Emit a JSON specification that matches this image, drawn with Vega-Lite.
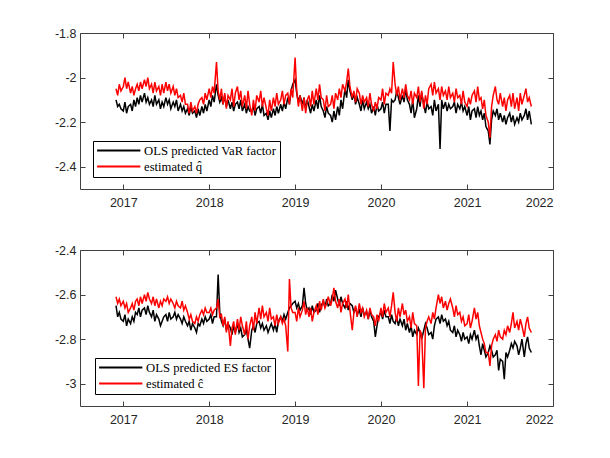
{
  "$schema": "https://vega.github.io/schema/vega-lite/v6.json",
  "background": "white",
  "padding": {"left": 54, "top": 27, "right": 5, "bottom": 5},
  "spacing": 35,
  "data": {"values": [
    {"t":"2016-12-01","v":-2.10,"q":-2.05,"e":-2.65,"c":-2.61},
    {"t":"2016-12-08","v":-2.13,"q":-2.08,"e":-2.70,"c":-2.64},
    {"t":"2016-12-15","v":-2.12,"q":-2.03,"e":-2.68,"c":-2.62},
    {"t":"2016-12-22","v":-2.14,"q":-2.06,"e":-2.71,"c":-2.65},
    {"t":"2017-01-01","v":-2.15,"q":-2.04,"e":-2.72,"c":-2.63},
    {"t":"2017-01-08","v":-2.11,"q":-2.00,"e":-2.69,"c":-2.66},
    {"t":"2017-01-15","v":-2.16,"q":-2.05,"e":-2.74,"c":-2.64},
    {"t":"2017-01-22","v":-2.13,"q":-2.02,"e":-2.71,"c":-2.68},
    {"t":"2017-02-01","v":-2.12,"q":-2.07,"e":-2.73,"c":-2.66},
    {"t":"2017-02-08","v":-2.15,"q":-2.04,"e":-2.70,"c":-2.64},
    {"t":"2017-02-15","v":-2.10,"q":-2.08,"e":-2.72,"c":-2.67},
    {"t":"2017-02-22","v":-2.13,"q":-2.05,"e":-2.68,"c":-2.63},
    {"t":"2017-03-01","v":-2.09,"q":-2.03,"e":-2.69,"c":-2.62},
    {"t":"2017-03-08","v":-2.12,"q":-2.06,"e":-2.66,"c":-2.65},
    {"t":"2017-03-15","v":-2.08,"q":-2.02,"e":-2.70,"c":-2.61},
    {"t":"2017-03-22","v":-2.11,"q":-2.05,"e":-2.67,"c":-2.64},
    {"t":"2017-04-01","v":-2.07,"q":-2.01,"e":-2.66,"c":-2.60},
    {"t":"2017-04-08","v":-2.11,"q":-2.04,"e":-2.69,"c":-2.63},
    {"t":"2017-04-15","v":-2.09,"q":-2.00,"e":-2.65,"c":-2.59},
    {"t":"2017-04-22","v":-2.12,"q":-2.05,"e":-2.68,"c":-2.62},
    {"t":"2017-05-01","v":-2.10,"q":-2.03,"e":-2.70,"c":-2.64},
    {"t":"2017-05-08","v":-2.13,"q":-2.07,"e":-2.67,"c":-2.61},
    {"t":"2017-05-15","v":-2.08,"q":-2.02,"e":-2.72,"c":-2.65},
    {"t":"2017-05-22","v":-2.12,"q":-2.06,"e":-2.69,"c":-2.62},
    {"t":"2017-06-01","v":-2.10,"q":-2.04,"e":-2.71,"c":-2.66},
    {"t":"2017-06-08","v":-2.14,"q":-2.08,"e":-2.74,"c":-2.63},
    {"t":"2017-06-15","v":-2.11,"q":-2.03,"e":-2.72,"c":-2.65},
    {"t":"2017-06-22","v":-2.13,"q":-2.07,"e":-2.70,"c":-2.62},
    {"t":"2017-07-01","v":-2.09,"q":-2.02,"e":-2.69,"c":-2.63},
    {"t":"2017-07-08","v":-2.12,"q":-2.06,"e":-2.72,"c":-2.61},
    {"t":"2017-07-15","v":-2.10,"q":-2.03,"e":-2.68,"c":-2.64},
    {"t":"2017-07-22","v":-2.14,"q":-2.07,"e":-2.71,"c":-2.62},
    {"t":"2017-08-01","v":-2.11,"q":-2.04,"e":-2.70,"c":-2.64},
    {"t":"2017-08-08","v":-2.13,"q":-2.08,"e":-2.68,"c":-2.66},
    {"t":"2017-08-15","v":-2.10,"q":-2.05,"e":-2.71,"c":-2.63},
    {"t":"2017-08-22","v":-2.15,"q":-2.09,"e":-2.69,"c":-2.65},
    {"t":"2017-09-01","v":-2.12,"q":-2.08,"e":-2.71,"c":-2.66},
    {"t":"2017-09-08","v":-2.15,"q":-2.11,"e":-2.73,"c":-2.63},
    {"t":"2017-09-15","v":-2.13,"q":-2.07,"e":-2.70,"c":-2.67},
    {"t":"2017-09-22","v":-2.16,"q":-2.12,"e":-2.72,"c":-2.65},
    {"t":"2017-10-01","v":-2.14,"q":-2.12,"e":-2.74,"c":-2.68},
    {"t":"2017-10-08","v":-2.17,"q":-2.16,"e":-2.72,"c":-2.71},
    {"t":"2017-10-15","v":-2.13,"q":-2.11,"e":-2.76,"c":-2.69},
    {"t":"2017-10-22","v":-2.16,"q":-2.15,"e":-2.73,"c":-2.72},
    {"t":"2017-11-01","v":-2.15,"q":-2.13,"e":-2.75,"c":-2.73},
    {"t":"2017-11-08","v":-2.18,"q":-2.16,"e":-2.77,"c":-2.70},
    {"t":"2017-11-15","v":-2.14,"q":-2.12,"e":-2.73,"c":-2.72},
    {"t":"2017-11-22","v":-2.17,"q":-2.10,"e":-2.74,"c":-2.69},
    {"t":"2017-12-01","v":-2.13,"q":-2.09,"e":-2.71,"c":-2.67},
    {"t":"2017-12-08","v":-2.16,"q":-2.12,"e":-2.73,"c":-2.69},
    {"t":"2017-12-15","v":-2.12,"q":-2.07,"e":-2.70,"c":-2.66},
    {"t":"2017-12-22","v":-2.15,"q":-2.10,"e":-2.72,"c":-2.68},
    {"t":"2018-01-01","v":-2.10,"q":-2.05,"e":-2.71,"c":-2.68},
    {"t":"2018-01-08","v":-2.13,"q":-2.09,"e":-2.69,"c":-2.66},
    {"t":"2018-01-15","v":-2.08,"q":-2.04,"e":-2.73,"c":-2.69},
    {"t":"2018-01-22","v":-2.11,"q":-2.07,"e":-2.70,"c":-2.67},
    {"t":"2018-02-01","v":-2.03,"q":-1.93,"e":-2.70,"c":-2.66},
    {"t":"2018-02-08","v":-2.08,"q":-2.06,"e":-2.51,"c":-2.62},
    {"t":"2018-02-15","v":-2.11,"q":-2.10,"e":-2.68,"c":-2.70},
    {"t":"2018-02-22","v":-2.09,"q":-2.05,"e":-2.72,"c":-2.69},
    {"t":"2018-03-01","v":-2.12,"q":-2.12,"e":-2.74,"c":-2.74},
    {"t":"2018-03-08","v":-2.08,"q":-2.07,"e":-2.71,"c":-2.70},
    {"t":"2018-03-15","v":-2.13,"q":-2.14,"e":-2.76,"c":-2.77},
    {"t":"2018-03-22","v":-2.10,"q":-2.08,"e":-2.73,"c":-2.72},
    {"t":"2018-04-01","v":-2.14,"q":-2.10,"e":-2.75,"c":-2.83},
    {"t":"2018-04-08","v":-2.11,"q":-2.05,"e":-2.78,"c":-2.75},
    {"t":"2018-04-15","v":-2.15,"q":-2.13,"e":-2.74,"c":-2.72},
    {"t":"2018-04-22","v":-2.12,"q":-2.07,"e":-2.77,"c":-2.78},
    {"t":"2018-05-01","v":-2.11,"q":-2.04,"e":-2.73,"c":-2.71},
    {"t":"2018-05-08","v":-2.14,"q":-2.10,"e":-2.77,"c":-2.76},
    {"t":"2018-05-15","v":-2.10,"q":-2.06,"e":-2.75,"c":-2.70},
    {"t":"2018-05-22","v":-2.15,"q":-2.13,"e":-2.79,"c":-2.74},
    {"t":"2018-06-01","v":-2.12,"q":-2.08,"e":-2.78,"c":-2.78},
    {"t":"2018-06-08","v":-2.16,"q":-2.14,"e":-2.76,"c":-2.72},
    {"t":"2018-06-15","v":-2.13,"q":-2.06,"e":-2.80,"c":-2.80},
    {"t":"2018-06-22","v":-2.15,"q":-2.12,"e":-2.84,"c":-2.74},
    {"t":"2018-07-01","v":-2.15,"q":-2.17,"e":-2.76,"c":-2.70},
    {"t":"2018-07-08","v":-2.13,"q":-2.10,"e":-2.74,"c":-2.76},
    {"t":"2018-07-15","v":-2.17,"q":-2.15,"e":-2.77,"c":-2.68},
    {"t":"2018-07-22","v":-2.14,"q":-2.08,"e":-2.73,"c":-2.73},
    {"t":"2018-08-01","v":-2.13,"q":-2.11,"e":-2.72,"c":-2.66},
    {"t":"2018-08-08","v":-2.16,"q":-2.06,"e":-2.75,"c":-2.71},
    {"t":"2018-08-15","v":-2.12,"q":-2.13,"e":-2.73,"c":-2.65},
    {"t":"2018-08-22","v":-2.17,"q":-2.09,"e":-2.76,"c":-2.70},
    {"t":"2018-09-01","v":-2.16,"q":-2.14,"e":-2.74,"c":-2.68},
    {"t":"2018-09-08","v":-2.19,"q":-2.17,"e":-2.77,"c":-2.72},
    {"t":"2018-09-15","v":-2.15,"q":-2.10,"e":-2.75,"c":-2.66},
    {"t":"2018-09-22","v":-2.18,"q":-2.15,"e":-2.73,"c":-2.71},
    {"t":"2018-10-01","v":-2.14,"q":-2.09,"e":-2.76,"c":-2.70},
    {"t":"2018-10-08","v":-2.17,"q":-2.13,"e":-2.73,"c":-2.74},
    {"t":"2018-10-15","v":-2.13,"q":-2.07,"e":-2.77,"c":-2.69},
    {"t":"2018-10-22","v":-2.16,"q":-2.12,"e":-2.72,"c":-2.73},
    {"t":"2018-11-01","v":-2.12,"q":-2.10,"e":-2.70,"c":-2.70},
    {"t":"2018-11-08","v":-2.15,"q":-2.06,"e":-2.72,"c":-2.73},
    {"t":"2018-11-15","v":-2.11,"q":-2.12,"e":-2.69,"c":-2.71},
    {"t":"2018-11-22","v":-2.14,"q":-2.08,"e":-2.71,"c":-2.74},
    {"t":"2018-12-01","v":-2.09,"q":-2.07,"e":-2.68,"c":-2.855},
    {"t":"2018-12-08","v":-2.12,"q":-2.12,"e":-2.66,"c":-2.53},
    {"t":"2018-12-15","v":-2.06,"q":-2.05,"e":-2.65,"c":-2.66},
    {"t":"2018-12-22","v":-2.03,"q":-2.09,"e":-2.64,"c":-2.68},
    {"t":"2019-01-01","v":-2.01,"q":-1.91,"e":-2.63,"c":-2.68},
    {"t":"2019-01-08","v":-2.07,"q":-2.06,"e":-2.66,"c":-2.72},
    {"t":"2019-01-15","v":-2.11,"q":-2.13,"e":-2.64,"c":-2.66},
    {"t":"2019-01-22","v":-2.08,"q":-2.08,"e":-2.67,"c":-2.70},
    {"t":"2019-02-01","v":-2.12,"q":-2.15,"e":-2.65,"c":-2.67},
    {"t":"2019-02-08","v":-2.09,"q":-2.09,"e":-2.57,"c":-2.63},
    {"t":"2019-02-15","v":-2.14,"q":-2.16,"e":-2.64,"c":-2.69},
    {"t":"2019-02-22","v":-2.10,"q":-2.10,"e":-2.67,"c":-2.66},
    {"t":"2019-03-01","v":-2.13,"q":-2.08,"e":-2.66,"c":-2.70},
    {"t":"2019-03-08","v":-2.16,"q":-2.13,"e":-2.69,"c":-2.66},
    {"t":"2019-03-15","v":-2.12,"q":-2.06,"e":-2.65,"c":-2.72},
    {"t":"2019-03-22","v":-2.15,"q":-2.12,"e":-2.68,"c":-2.68},
    {"t":"2019-04-01","v":-2.10,"q":-2.05,"e":-2.67,"c":-2.65},
    {"t":"2019-04-08","v":-2.14,"q":-2.10,"e":-2.64,"c":-2.69},
    {"t":"2019-04-15","v":-2.08,"q":-2.03,"e":-2.68,"c":-2.63},
    {"t":"2019-04-22","v":-2.13,"q":-2.09,"e":-2.65,"c":-2.67},
    {"t":"2019-05-01","v":-2.15,"q":-2.10,"e":-2.63,"c":-2.62},
    {"t":"2019-05-08","v":-2.18,"q":-2.15,"e":-2.66,"c":-2.66},
    {"t":"2019-05-15","v":-2.13,"q":-2.08,"e":-2.62,"c":-2.64},
    {"t":"2019-05-22","v":-2.16,"q":-2.13,"e":-2.65,"c":-2.61},
    {"t":"2019-06-01","v":-2.17,"q":-2.12,"e":-2.64,"c":-2.65},
    {"t":"2019-06-08","v":-2.20,"q":-2.08,"e":-2.60,"c":-2.62},
    {"t":"2019-06-15","v":-2.15,"q":-2.14,"e":-2.63,"c":-2.57},
    {"t":"2019-06-22","v":-2.19,"q":-2.07,"e":-2.58,"c":-2.63},
    {"t":"2019-07-01","v":-2.13,"q":-2.10,"e":-2.62,"c":-2.66},
    {"t":"2019-07-08","v":-2.17,"q":-2.05,"e":-2.65,"c":-2.62},
    {"t":"2019-07-15","v":-2.10,"q":-2.09,"e":-2.61,"c":-2.68},
    {"t":"2019-07-22","v":-2.14,"q":-2.03,"e":-2.64,"c":-2.64},
    {"t":"2019-08-01","v":-2.05,"q":-2.06,"e":-2.66,"c":-2.62},
    {"t":"2019-08-08","v":-2.09,"q":-2.02,"e":-2.63,"c":-2.66},
    {"t":"2019-08-15","v":-2.01,"q":-1.96,"e":-2.67,"c":-2.60},
    {"t":"2019-08-22","v":-2.06,"q":-2.04,"e":-2.64,"c":-2.67},
    {"t":"2019-09-01","v":-2.10,"q":-2.09,"e":-2.65,"c":-2.76},
    {"t":"2019-09-08","v":-2.07,"q":-2.06,"e":-2.68,"c":-2.68},
    {"t":"2019-09-15","v":-2.12,"q":-2.11,"e":-2.66,"c":-2.65},
    {"t":"2019-09-22","v":-2.09,"q":-2.05,"e":-2.69,"c":-2.70},
    {"t":"2019-10-01","v":-2.12,"q":-2.07,"e":-2.67,"c":-2.64},
    {"t":"2019-10-08","v":-2.15,"q":-2.12,"e":-2.70,"c":-2.68},
    {"t":"2019-10-15","v":-2.10,"q":-2.08,"e":-2.66,"c":-2.66},
    {"t":"2019-10-22","v":-2.14,"q":-2.11,"e":-2.69,"c":-2.70},
    {"t":"2019-11-01","v":-2.11,"q":-2.09,"e":-2.68,"c":-2.67},
    {"t":"2019-11-08","v":-2.14,"q":-2.13,"e":-2.71,"c":-2.71},
    {"t":"2019-11-15","v":-2.12,"q":-2.07,"e":-2.67,"c":-2.66},
    {"t":"2019-11-22","v":-2.16,"q":-2.12,"e":-2.70,"c":-2.69},
    {"t":"2019-12-01","v":-2.13,"q":-2.15,"e":-2.72,"c":-2.70},
    {"t":"2019-12-08","v":-2.17,"q":-2.11,"e":-2.79,"c":-2.74},
    {"t":"2019-12-15","v":-2.12,"q":-2.14,"e":-2.74,"c":-2.69},
    {"t":"2019-12-22","v":-2.15,"q":-2.09,"e":-2.70,"c":-2.72},
    {"t":"2020-01-01","v":-2.14,"q":-2.10,"e":-2.68,"c":-2.66},
    {"t":"2020-01-08","v":-2.11,"q":-2.05,"e":-2.71,"c":-2.70},
    {"t":"2020-01-15","v":-2.16,"q":-2.12,"e":-2.67,"c":-2.64},
    {"t":"2020-01-22","v":-2.12,"q":-2.07,"e":-2.70,"c":-2.68},
    {"t":"2020-02-01","v":-2.12,"q":-2.08,"e":-2.70,"c":-2.66},
    {"t":"2020-02-08","v":-2.24,"q":-2.05,"e":-2.73,"c":-2.70},
    {"t":"2020-02-15","v":-2.10,"q":-2.07,"e":-2.69,"c":-2.65},
    {"t":"2020-02-22","v":-2.11,"q":-1.93,"e":-2.72,"c":-2.59},
    {"t":"2020-03-01","v":-2.10,"q":-2.03,"e":-2.73,"c":-2.68},
    {"t":"2020-03-08","v":-2.06,"q":-2.08,"e":-2.70,"c":-2.72},
    {"t":"2020-03-15","v":-2.09,"q":-2.04,"e":-2.74,"c":-2.66},
    {"t":"2020-03-22","v":-2.12,"q":-2.10,"e":-2.71,"c":-2.70},
    {"t":"2020-04-01","v":-2.08,"q":-2.05,"e":-2.74,"c":-2.64},
    {"t":"2020-04-08","v":-2.11,"q":-2.09,"e":-2.71,"c":-2.69},
    {"t":"2020-04-15","v":-2.05,"q":-2.03,"e":-2.76,"c":-2.67},
    {"t":"2020-04-22","v":-2.10,"q":-2.08,"e":-2.73,"c":-2.72},
    {"t":"2020-05-01","v":-2.12,"q":-2.10,"e":-2.77,"c":-2.70},
    {"t":"2020-05-08","v":-2.16,"q":-2.06,"e":-2.74,"c":-2.75},
    {"t":"2020-05-15","v":-2.10,"q":-2.12,"e":-2.79,"c":-2.68},
    {"t":"2020-05-22","v":-2.18,"q":-2.07,"e":-2.76,"c":-2.73},
    {"t":"2020-06-01","v":-2.14,"q":-2.09,"e":-2.78,"c":-2.74},
    {"t":"2020-06-08","v":-2.08,"q":-2.04,"e":-2.75,"c":-3.01},
    {"t":"2020-06-15","v":-2.13,"q":-2.11,"e":-2.77,"c":-2.76},
    {"t":"2020-06-22","v":-2.07,"q":-2.06,"e":-2.80,"c":-2.78},
    {"t":"2020-07-01","v":-2.12,"q":-2.14,"e":-2.76,"c":-3.02},
    {"t":"2020-07-08","v":-2.16,"q":-2.08,"e":-2.73,"c":-2.75},
    {"t":"2020-07-15","v":-2.11,"q":-2.12,"e":-2.75,"c":-2.72},
    {"t":"2020-07-22","v":-2.14,"q":-2.05,"e":-2.78,"c":-2.70},
    {"t":"2020-08-01","v":-2.13,"q":-2.03,"e":-2.77,"c":-2.73},
    {"t":"2020-08-08","v":-2.17,"q":-2.08,"e":-2.80,"c":-2.68},
    {"t":"2020-08-15","v":-2.10,"q":-2.02,"e":-2.74,"c":-2.71},
    {"t":"2020-08-22","v":-2.15,"q":-2.07,"e":-2.71,"c":-2.66},
    {"t":"2020-09-01","v":-2.12,"q":-2.05,"e":-2.70,"c":-2.60},
    {"t":"2020-09-08","v":-2.32,"q":-2.10,"e":-2.73,"c":-2.64},
    {"t":"2020-09-15","v":-2.10,"q":-2.04,"e":-2.69,"c":-2.61},
    {"t":"2020-09-22","v":-2.14,"q":-2.08,"e":-2.72,"c":-2.66},
    {"t":"2020-10-01","v":-2.11,"q":-2.06,"e":-2.71,"c":-2.63},
    {"t":"2020-10-08","v":-2.15,"q":-2.10,"e":-2.74,"c":-2.67},
    {"t":"2020-10-15","v":-2.12,"q":-2.04,"e":-2.72,"c":-2.64},
    {"t":"2020-10-22","v":-2.14,"q":-2.09,"e":-2.76,"c":-2.62},
    {"t":"2020-11-01","v":-2.13,"q":-2.07,"e":-2.77,"c":-2.66},
    {"t":"2020-11-08","v":-2.11,"q":-2.11,"e":-2.74,"c":-2.70},
    {"t":"2020-11-15","v":-2.16,"q":-2.05,"e":-2.79,"c":-2.65},
    {"t":"2020-11-22","v":-2.12,"q":-2.09,"e":-2.76,"c":-2.69},
    {"t":"2020-12-01","v":-2.14,"q":-2.08,"e":-2.78,"c":-2.68},
    {"t":"2020-12-08","v":-2.11,"q":-2.12,"e":-2.81,"c":-2.72},
    {"t":"2020-12-15","v":-2.15,"q":-2.06,"e":-2.77,"c":-2.70},
    {"t":"2020-12-22","v":-2.13,"q":-2.11,"e":-2.80,"c":-2.74},
    {"t":"2021-01-01","v":-2.17,"q":-2.13,"e":-2.79,"c":-2.73},
    {"t":"2021-01-08","v":-2.13,"q":-2.09,"e":-2.82,"c":-2.69},
    {"t":"2021-01-15","v":-2.19,"q":-2.12,"e":-2.78,"c":-2.75},
    {"t":"2021-01-22","v":-2.15,"q":-2.08,"e":-2.80,"c":-2.72},
    {"t":"2021-02-01","v":-2.14,"q":-2.06,"e":-2.76,"c":-2.66},
    {"t":"2021-02-08","v":-2.18,"q":-2.11,"e":-2.80,"c":-2.71},
    {"t":"2021-02-15","v":-2.13,"q":-2.04,"e":-2.78,"c":-2.68},
    {"t":"2021-02-22","v":-2.17,"q":-2.10,"e":-2.83,"c":-2.74},
    {"t":"2021-03-01","v":-2.15,"q":-2.09,"e":-2.87,"c":-2.77},
    {"t":"2021-03-08","v":-2.19,"q":-2.14,"e":-2.82,"c":-2.80},
    {"t":"2021-03-15","v":-2.16,"q":-2.10,"e":-2.85,"c":-2.82},
    {"t":"2021-03-22","v":-2.22,"q":-2.17,"e":-2.88,"c":-2.86},
    {"t":"2021-04-01","v":-2.24,"q":-2.20,"e":-2.86,"c":-2.86},
    {"t":"2021-04-08","v":-2.30,"q":-2.27,"e":-2.83,"c":-2.92},
    {"t":"2021-04-15","v":-2.19,"q":-2.13,"e":-2.85,"c":-2.83},
    {"t":"2021-04-22","v":-2.15,"q":-2.08,"e":-2.88,"c":-2.80},
    {"t":"2021-05-01","v":-2.17,"q":-2.04,"e":-2.87,"c":-2.78},
    {"t":"2021-05-08","v":-2.14,"q":-2.10,"e":-2.85,"c":-2.81},
    {"t":"2021-05-15","v":-2.19,"q":-2.12,"e":-2.94,"c":-2.76},
    {"t":"2021-05-22","v":-2.16,"q":-2.07,"e":-2.89,"c":-2.79},
    {"t":"2021-06-01","v":-2.20,"q":-2.13,"e":-2.90,"c":-2.80},
    {"t":"2021-06-08","v":-2.17,"q":-2.09,"e":-2.98,"c":-2.76},
    {"t":"2021-06-15","v":-2.21,"q":-2.15,"e":-2.86,"c":-2.78},
    {"t":"2021-06-22","v":-2.18,"q":-2.10,"e":-2.88,"c":-2.74},
    {"t":"2021-07-01","v":-2.16,"q":-2.08,"e":-2.85,"c":-2.77},
    {"t":"2021-07-08","v":-2.20,"q":-2.13,"e":-2.82,"c":-2.73},
    {"t":"2021-07-15","v":-2.17,"q":-2.07,"e":-2.84,"c":-2.68},
    {"t":"2021-07-22","v":-2.21,"q":-2.14,"e":-2.81,"c":-2.75},
    {"t":"2021-08-01","v":-2.18,"q":-2.09,"e":-2.83,"c":-2.72},
    {"t":"2021-08-08","v":-2.20,"q":-2.15,"e":-2.87,"c":-2.76},
    {"t":"2021-08-15","v":-2.16,"q":-2.07,"e":-2.84,"c":-2.71},
    {"t":"2021-08-22","v":-2.19,"q":-2.12,"e":-2.80,"c":-2.74},
    {"t":"2021-09-01","v":-2.17,"q":-2.08,"e":-2.88,"c":-2.79},
    {"t":"2021-09-08","v":-2.14,"q":-2.05,"e":-2.82,"c":-2.73},
    {"t":"2021-09-15","v":-2.19,"q":-2.11,"e":-2.79,"c":-2.70},
    {"t":"2021-09-22","v":-2.15,"q":-2.09,"e":-2.84,"c":-2.75},
    {"t":"2021-10-01","v":-2.21,"q":-2.13,"e":-2.86,"c":-2.77}
  ]},
  "resolve": {"scale": {"color": "independent"}, "legend": {"color": "independent"}},
  "vconcat": [
    {
      "width": 473, "height": 156,
      "transform": [{"fold": ["v", "q"], "as": ["s", "val"]}],
      "resolve": {"axis": {"x": "independent", "y": "independent"}},
      "layer": [
        {
          "mark": {"type": "line", "strokeWidth": 1.5},
          "encoding": {
            "x": {"field": "t", "type": "temporal",
              "scale": {"type": "utc", "domain": [{"year": 2016, "month": 7, "date": 1, "utc": true}, {"year": 2022, "month": 1, "date": 1, "utc": true}]},
              "axis": {"orient": "bottom", "values": [{"year": 2017, "utc": true}, {"year": 2018, "utc": true}, {"year": 2019, "utc": true}, {"year": 2020, "utc": true}, {"year": 2021, "utc": true}, {"year": 2022, "utc": true}],
                "labelExpr": "utcFormat(datum.value, '%Y')", "labelPadding": 12}},
            "y": {"field": "val", "type": "quantitative",
              "scale": {"domain": [-2.5, -1.8], "zero": false, "nice": false},
              "axis": {"orient": "left", "values": [-2.4, -2.2, -2, -1.8], "labelExpr": "'' + datum.value", "labelPadding": 9}},
            "color": {"field": "s", "type": "nominal",
              "scale": {"domain": ["v", "q"], "range": ["#000000", "#ff0000"]},
              "legend": {"title": null, "orient": "none", "legendX": 13, "legendY": 108,
                "labelExpr": "datum.label == 'v' ? 'OLS predicted VaR factor' : 'estimated q\u0302'"}}
          }
        },
        {
          "mark": {"type": "line", "opacity": 0},
          "encoding": {
            "x": {"field": "t", "type": "temporal",
              "axis": {"orient": "top", "labels": false, "values": [{"year": 2017, "utc": true}, {"year": 2018, "utc": true}, {"year": 2019, "utc": true}, {"year": 2020, "utc": true}, {"year": 2021, "utc": true}, {"year": 2022, "utc": true}]}},
            "y": {"field": "val", "type": "quantitative",
              "axis": {"orient": "right", "labels": false, "values": [-2.4, -2.2, -2, -1.8]}},
            "detail": {"field": "s"}
          }
        }
      ]
    },
    {
      "width": 473, "height": 156,
      "transform": [{"fold": ["e", "c"], "as": ["s", "val"]}],
      "resolve": {"axis": {"x": "independent", "y": "independent"}},
      "layer": [
        {
          "mark": {"type": "line", "strokeWidth": 1.5},
          "encoding": {
            "x": {"field": "t", "type": "temporal",
              "scale": {"type": "utc", "domain": [{"year": 2016, "month": 7, "date": 1, "utc": true}, {"year": 2022, "month": 1, "date": 1, "utc": true}]},
              "axis": {"orient": "bottom", "values": [{"year": 2017, "utc": true}, {"year": 2018, "utc": true}, {"year": 2019, "utc": true}, {"year": 2020, "utc": true}, {"year": 2021, "utc": true}, {"year": 2022, "utc": true}],
                "labelExpr": "utcFormat(datum.value, '%Y')", "labelPadding": 12}},
            "y": {"field": "val", "type": "quantitative",
              "scale": {"domain": [-3.1, -2.4], "zero": false, "nice": false},
              "axis": {"orient": "left", "values": [-3, -2.8, -2.6, -2.4], "labelExpr": "'' + datum.value", "labelPadding": 9}},
            "color": {"field": "s", "type": "nominal",
              "scale": {"domain": ["e", "c"], "range": ["#000000", "#ff0000"]},
              "legend": {"title": null, "orient": "none", "legendX": 15, "legendY": 108,
                "labelExpr": "datum.label == 'e' ? 'OLS predicted ES factor' : 'estimated \u0109'"}}
          }
        },
        {
          "mark": {"type": "line", "opacity": 0},
          "encoding": {
            "x": {"field": "t", "type": "temporal",
              "axis": {"orient": "top", "labels": false, "values": [{"year": 2017, "utc": true}, {"year": 2018, "utc": true}, {"year": 2019, "utc": true}, {"year": 2020, "utc": true}, {"year": 2021, "utc": true}, {"year": 2022, "utc": true}]}},
            "y": {"field": "val", "type": "quantitative",
              "axis": {"orient": "right", "labels": false, "values": [-3, -2.8, -2.6, -2.4]}},
            "detail": {"field": "s"}
          }
        }
      ]
    }
  ],
  "config": {
    "view": {"stroke": null},
    "font": "Liberation Sans",
    "axis": {
      "title": null, "grid": false,
      "domainColor": "#404040", "domainWidth": 1,
      "tickColor": "#404040", "tickWidth": 1, "tickSize": -5,
      "labelColor": "#262626", "labelFont": "Liberation Sans", "labelFontSize": 12.5
    },
    "legend": {
      "strokeColor": "#000000", "fillColor": "#ffffff", "padding": 3, "cornerRadius": 0,
      "symbolType": "M-1,0H7", "symbolStrokeWidth": 2, "symbolSize": 117,
      "labelFont": "Liberation Serif", "labelFontSize": 12.7, "labelColor": "#000000",
      "labelOffset": 35, "rowPadding": 2, "labelLimit": 0
    }
  }
}
